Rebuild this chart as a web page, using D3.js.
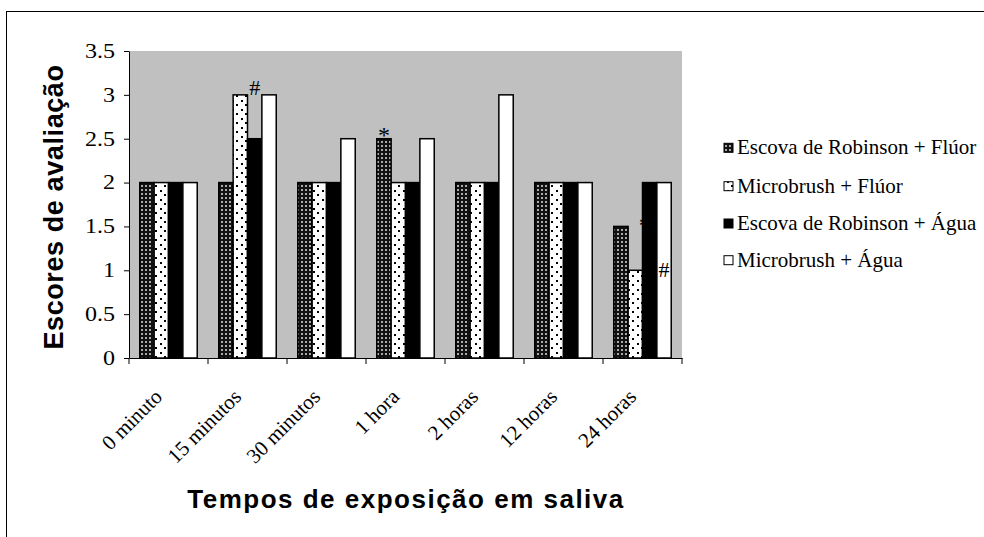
<!DOCTYPE html>
<html><head><meta charset="utf-8">
<script src="https://cdn.jsdelivr.net/npm/d3@7/dist/d3.min.js"></script>
<style>html,body{margin:0;padding:0;background:#fff;overflow:hidden}</style>
</head><body>
<svg id="c" width="984" height="537"></svg>
<script>
const categories = ["0 minuto","15 minutos","30 minutos","1 hora","2 horas","12 horas","24 horas"];
const seriesNames = ["Escova de Robinson + Flúor","Microbrush + Flúor","Escova de Robinson + Água","Microbrush + Água"];
const s1 = [2, 2, 2, 2.5, 2, 2, 1.5];
const s2 = [2, 3, 2, 2, 2, 2, 1];
const s3 = [2, 2.5, 2, 2, 2, 2, 2];
const s4 = [2, 3, 2.5, 2.5, 3, 2, 2];
const yTicks = [0, 0.5, 1, 1.5, 2, 2.5, 3, 3.5];
const annotations = [
  {cat: 1, ser: 2, text: "#", val: 3.0, behind: false, dx: 0.5},
  {cat: 3, ser: 0, text: "*", val: 2.45, behind: false, dx: 0.5},
  {cat: 6, ser: 2, text: "*", val: 1.42, behind: true, dx: 0.15},
  {cat: 6, ser: 3, text: "#", val: 0.92, behind: false, dx: 0.5}
];
const seriesData = [s1, s2, s3, s4];
const SERIF = "'Liberation Serif','Times New Roman',serif";
const SANS = "'Liberation Sans',Arial,sans-serif";

const svg = d3.select("#c");
const defs = svg.append("defs");
const p1 = defs.append("pattern").attr("id","pat0").attr("patternUnits","userSpaceOnUse").attr("width",4).attr("height",4);
p1.append("rect").attr("width",4).attr("height",4).attr("fill","#111");
p1.append("rect").attr("x",1).attr("y",1).attr("width",2).attr("height",2).attr("fill","#aaa");
const p2 = defs.append("pattern").attr("id","pat1").attr("patternUnits","userSpaceOnUse").attr("width",9).attr("height",9);
p2.append("rect").attr("width",9).attr("height",9).attr("fill","#fff");
p2.append("rect").attr("x",2).attr("y",5).attr("width",2).attr("height",2).attr("fill","#000");
p2.append("rect").attr("x",7).attr("y",1).attr("width",2).attr("height",2).attr("fill","#000");
const fills = ["url(#pat0)","url(#pat1)","#000","#fff"];

svg.append("rect").attr("x",6.5).attr("y",11.5).attr("width",1000).attr("height",600)
  .attr("fill","none").attr("stroke","#000").attr("stroke-width",1);

const plot = {l:129, r:682, t:51, b:358};
const x = d3.scaleBand().domain(categories).range([plot.l, plot.r]).paddingInner(0).paddingOuter(0);
const y = d3.scaleLinear().domain([0,3.5]).range([plot.b, plot.t]);
const bw = x.bandwidth()/5.5;
const gap = x.bandwidth() - 4*bw;
const xs = i => gap/2 + i*bw;

svg.append("rect").attr("x",plot.l).attr("y",plot.t).attr("width",plot.r-plot.l).attr("height",plot.b-plot.t).attr("fill","#c0c0c0");

function drawAnn(sel, list){
  list.forEach(a => {
    sel.append("text")
      .attr("x", x(categories[a.cat]) + xs(a.ser) + bw*a.dx)
      .attr("y", y(a.val))
      .attr("text-anchor","middle")
      .style("font-family", SERIF)
      .style("font-size", a.text==="*" ? "24px" : "22px")
      .text(a.text);
  });
}
const annBehind = svg.append("g");
drawAnn(annBehind, annotations.filter(a=>a.behind));

const g = svg.append("g");
seriesData.forEach((arr, si) => {
  g.selectAll(null).data(arr).enter().append("rect")
    .attr("x",(d,i)=>x(categories[i]) + xs(si))
    .attr("y",d=>y(d))
    .attr("width",bw)
    .attr("height",d=>y(0)-y(d))
    .attr("fill",fills[si])
    .attr("stroke","#000").attr("stroke-width",1.5);
});
const annFront = svg.append("g");
drawAnn(annFront, annotations.filter(a=>!a.behind));

const yAxis = d3.axisLeft(y).tickValues(yTicks).tickSize(5).tickSizeOuter(0).tickFormat(d=>String(d));
const ya = svg.append("g").attr("transform",`translate(${plot.l},0)`).call(yAxis);
ya.attr("font-family", null);
ya.selectAll("text").style("font-family",SERIF).style("font-size","20px").attr("fill","#000")
  .attr("x",0).attr("transform","translate(-14,0) scale(1.2,1)");
ya.selectAll("line").attr("stroke","#000");
ya.select(".domain").attr("stroke","#000");

const xAxis = d3.axisBottom(x).tickSize(0).tickSizeOuter(0);
const xa = svg.append("g").attr("transform",`translate(0,${plot.b})`).call(xAxis);
xa.attr("font-family", null);
xa.select(".domain").attr("stroke","#000");
xa.selectAll("text")
  .style("font-family",SERIF).style("font-size","21px").attr("fill","#000")
  .attr("text-anchor","end").attr("dy",0).attr("y",0)
  .attr("transform","translate(-5,40) rotate(-45)");
const bounds = categories.map(c=>x(c)).concat([plot.r]);
svg.append("g").selectAll("line").data(bounds).enter().append("line")
  .attr("x1",d=>d).attr("x2",d=>d).attr("y1",plot.b).attr("y2",plot.b+6).attr("stroke","#000");

svg.append("text").attr("transform","translate(63,207) rotate(-90)").attr("text-anchor","middle")
  .style("font-family",SANS).style("font-weight","bold").style("font-size","27px").style("letter-spacing","0.6px")
  .text("Escores de avaliação");
svg.append("text").attr("x",406).attr("y",508).attr("text-anchor","middle")
  .style("font-family",SANS).style("font-weight","bold").style("font-size","26px").style("letter-spacing","1.5px")
  .text("Tempos de exposição em saliva");

const lg = svg.append("g");
const legendBase = [154.3, 192.7, 230, 266.7];
seriesNames.forEach((n,i)=>{
  const yy = legendBase[i];
  lg.append("rect").attr("x",724).attr("y",yy-11).attr("width",9).attr("height",9)
    .attr("fill",fills[i]).attr("stroke","#000").attr("stroke-width",1);
  lg.append("text").attr("x",737).attr("y",yy)
    .style("font-family",SERIF).style("font-size","21px").text(n);
});
</script>
</body></html>
